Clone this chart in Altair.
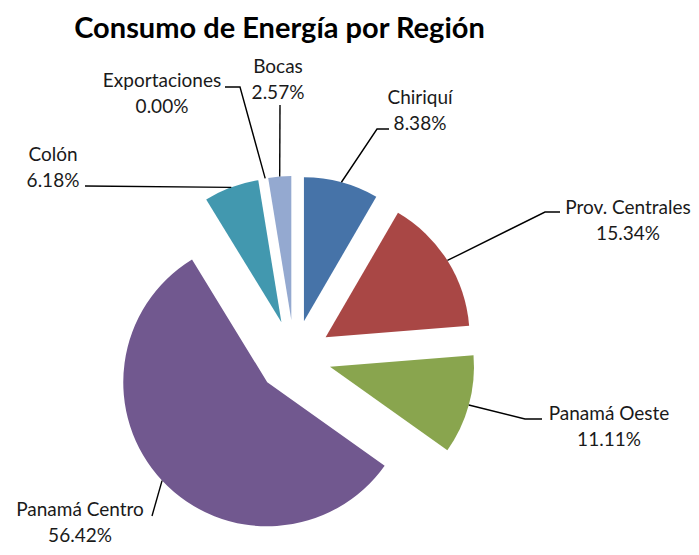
import math
import altair as alt
import pandas as pd

# ---- data ----
regions = ["Chiriquí", "Prov. Centrales", "Panamá Oeste", "Panamá Centro",
           "Colón", "Exportaciones", "Bocas"]
shares = [8.38, 15.34, 11.11, 56.42, 6.18, 0.00, 2.57]
pct_labels = ["8.38%", "15.34%", "11.11%", "56.42%", "6.18%", "0.00%", "2.57%"]

# ---- styles / layout ----
colors = ["#4673A8", "#A94745", "#89A54E", "#71588F", "#4298AF", "#DB843D", "#94A9D0"]
OX, OY = 8, 48            # page position of the plot origin
CX, CY = 294.3 - OX, 357 - OY   # pie centre (plot coords)
R = 144                    # pie radius
EXPLODE = 37               # explosion distance
FONT = "Lato"

# label centre x / first-line baseline (page coords)
label_pos = {
    "Chiriquí": (420, 104), "Prov. Centrales": (628, 214), "Panamá Oeste": (609, 420),
    "Panamá Centro": (80, 516), "Colón": (53, 161), "Exportaciones": (162, 87),
    "Bocas": (278, 73),
}
# leader-line bends after the anchor on the slice (page coords)
leader_pts = {
    "Chiriquí": [(377, 129), (389, 129)],
    "Prov. Centrales": [(545, 212), (560, 212)],
    "Panamá Oeste": [(525, 419), (542, 419)],
    "Panamá Centro": [(152, 516)],
    "Colón": [(85, 186)],
    "Exportaciones": [(240, 87), (225, 87)],
    "Bocas": [(280, 105)],
}

total = sum(shares)
df = pd.DataFrame({"region": regions, "share": shares, "order": list(range(len(regions))),
                   "pct": pct_labels})
df["txt"] = df["region"] + "\n" + df["pct"]
df["lx"] = [label_pos[r][0] - OX for r in regions]
df["ly"] = [label_pos[r][1] - OY for r in regions]

# leader lines: anchor at the outer edge of each exploded slice
rows = []
cum = 0.0
for r, s in zip(regions, shares):
    mid = 2 * math.pi * (cum + s / 2) / total
    cum += s
    ax = CX + (EXPLODE + R) * math.sin(mid)
    ay = CY - (EXPLODE + R) * math.cos(mid)
    rows.append({"region": r, "seq": 0, "px": ax, "py": ay})
    for i, (px, py) in enumerate(leader_pts[r]):
        rows.append({"region": r, "seq": i + 1, "px": px - OX, "py": py - OY})
lines_df = pd.DataFrame(rows)

arcs = alt.Chart(df).transform_window(
    cum="sum(share)", sort=[alt.SortField("order")], frame=[None, 0]
).transform_calculate(
    t0="datum.cum - datum.share",
    mid=f"2*PI*(datum.cum - datum.share/2)/{total}",
).transform_calculate(
    cx=f"{CX} + {EXPLODE}*sin(datum.mid)",
    cy=f"{CY} - {EXPLODE}*cos(datum.mid)",
).mark_arc(outerRadius=R).encode(
    theta=alt.Theta("t0:Q", stack=False, scale=alt.Scale(domain=[0, total])),
    theta2="cum:Q",
    x=alt.X("cx:Q", scale=None, stack=False),
    y=alt.Y("cy:Q", scale=None, stack=False),
    color=alt.Color("region:N", scale=alt.Scale(domain=regions, range=colors), legend=None),
)

leaders = alt.Chart(lines_df).mark_line(color="black", strokeWidth=1.4).encode(
    x=alt.X("px:Q", scale=None),
    y=alt.Y("py:Q", scale=None),
    detail="region:N",
    order="seq:Q",
)

labels = alt.Chart(df).mark_text(
    font=FONT, fontSize=19, lineBreak="\n", lineHeight=26,
    align="center", baseline="alphabetic", color="#1a1a1a",
).encode(
    x=alt.X("lx:Q", scale=None),
    y=alt.Y("ly:Q", scale=None),
    text="txt:N",
)

chart = alt.layer(arcs, leaders, labels).properties(
    width=683, height=499,
    padding={"top": 40, "left": 0, "right": 0, "bottom": 0},
    autosize="none",
    title=alt.TitleParams(
        text="Consumo de Energía por Región", font=FONT, fontSize=29,
        fontWeight="bold", color="black", anchor="middle", dx=-70, offset=4,
    ),
).configure_view(stroke=None)

chart.save("out.html", embed_options={"renderer": "svg", "actions": False})
